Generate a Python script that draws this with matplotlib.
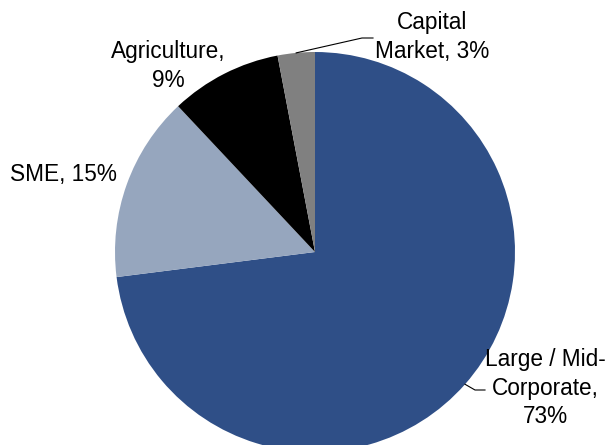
import numpy as np
import matplotlib
matplotlib.use("Agg")
import matplotlib.pyplot as plt

# loan book split
labels = ["Large / Mid-\nCorporate,\n73%", "SME, 15%", "Agriculture,\n9%", "Capital\nMarket, 3%"]
shares = [73, 15, 9, 3]
colors = ["#2F4F87", "#96A6BE", "#000000", "#808080"]

plt.rcParams['font.family'] = ['Liberation Sans', 'DejaVu Sans']

fig = plt.figure(figsize=(6.13, 4.45), dpi=100)
ax = fig.add_axes([0, 0, 1, 1])

wedges, _ = ax.pie(shares, colors=colors, startangle=90, counterclock=False,
                   radius=1.0, center=(0, 0), wedgeprops=dict(linewidth=0))

# 1 data unit = 200 px, pie centre at (315, 252) px from top-left
ax.set_xlim(-315 / 200, 298 / 200)
ax.set_ylim(-193 / 200, 252 / 200)
ax.set_aspect('equal')
ax.axis('off')

# label positions (text centres) and leader line bends, in data units
text_pos = [(1.15, -0.68), (-1.26, 0.39), (-0.735, 0.93), (0.585, 1.075)]
leaders = {0: [(0.80, -0.69), (0.85, -0.69)], 3: [(0.235, 1.07), (0.29, 1.07)]}

for i, w in enumerate(wedges):
    ax.text(text_pos[i][0], text_pos[i][1], labels[i], ha='center', va='center',
            fontsize=16.3, linespacing=1.3, color='black')
    if i in leaders:
        mid = np.deg2rad((w.theta1 + w.theta2) / 2)
        pts = [(np.cos(mid), np.sin(mid))] + leaders[i]
        xs, ys = zip(*pts)
        ax.plot(xs, ys, color='black', lw=0.8, clip_on=False)

fig.savefig("out.png", dpi=100)
